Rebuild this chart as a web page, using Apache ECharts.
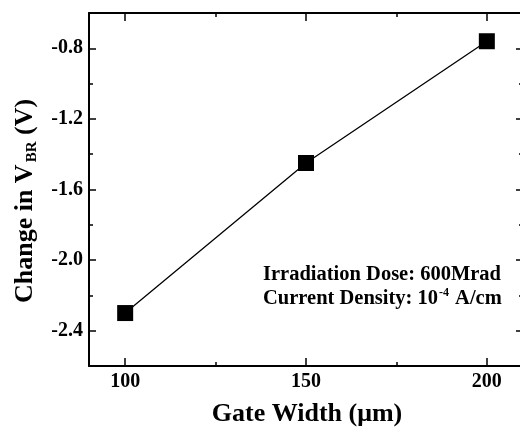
<!DOCTYPE html>
<html>
<head>
<meta charset="utf-8">
<script src="https://cdn.jsdelivr.net/npm/echarts@6/dist/echarts.min.js"></script>
<style>html,body{margin:0;padding:0;background:#fff}#c{width:520px;height:434px}</style>
</head>
<body>
<div id="c"></div>
<script>
const gateWidth = [100, 150, 200];
const deltaVbr = [-2.3, -1.45, -0.76];
const xMajorTicks = [100, 150, 200];
const xMinorTicks = [125, 175];
const yMajorTicks = [-2.4, -2.0, -1.6, -1.2, -0.8];
const yMinorTicks = [-2.6, -2.2, -1.8, -1.4, -1.0, -0.6];
const xRange = [90, 210];
const yRange = [-2.6, -0.6];

const FONT = '"Liberation Serif", "Times New Roman", serif';
const gridRect = { left: 89, top: 13, width: 434, height: 353, outerBoundsMode: 'none', containLabel: false };

function xAx(gridIndex, position, ticks, len, showLine, showLabel) {
  return {
    type: 'value', gridIndex, position, min: xRange[0], max: xRange[1],
    axisLine: { show: showLine, onZero: false, lineStyle: { color: '#000', width: 2 } },
    axisTick: { show: true, inside: true, length: len, customValues: ticks, lineStyle: { color: '#000', width: 1.5 } },
    axisLabel: { show: showLabel, customValues: ticks, margin: 6, color: '#000', fontFamily: FONT, fontWeight: 'bold', fontSize: 20 },
    splitLine: { show: false }
  };
}
function yAx(gridIndex, position, ticks, len, showLine, showLabel) {
  return {
    type: 'value', gridIndex, position, min: yRange[0], max: yRange[1],
    axisLine: { show: showLine, onZero: false, lineStyle: { color: '#000', width: 2 } },
    axisTick: { show: true, inside: true, length: len, customValues: ticks, lineStyle: { color: '#000', width: 1.5 } },
    axisLabel: { show: showLabel, customValues: ticks, margin: 6, color: '#000', fontFamily: FONT, fontWeight: 'bold', fontSize: 20,
      formatter: v => v.toFixed(1) },
    splitLine: { show: false }
  };
}

const chart = echarts.init(document.getElementById('c'), null, { renderer: 'canvas' });
chart.setOption({
  backgroundColor: '#fff',
  animation: false,
  grid: [Object.assign({}, gridRect), Object.assign({}, gridRect)],
  xAxis: [
    xAx(0, 'bottom', xMajorTicks, 8, true, true),
    xAx(0, 'top', xMajorTicks, 8, true, false),
    xAx(1, 'bottom', xMinorTicks, 4, false, false),
    xAx(1, 'top', xMinorTicks, 4, false, false)
  ],
  yAxis: [
    yAx(0, 'left', yMajorTicks, 7, true, true),
    yAx(0, 'right', yMajorTicks, 7, true, false),
    yAx(1, 'left', yMinorTicks, 4, false, false),
    yAx(1, 'right', yMinorTicks, 4, false, false)
  ],
  series: [{
    type: 'line', xAxisIndex: 0, yAxisIndex: 0,
    data: gateWidth.map((g, i) => [g, deltaVbr[i]]),
    symbol: 'rect', symbolSize: 16,
    lineStyle: { color: '#000', width: 1.3 },
    itemStyle: { color: '#000' }
  }],
  graphic: [
    {
      type: 'text', x: 307, y: 414,
      style: { text: 'Gate Width (μm)', fill: '#000', font: 'bold 26px ' + FONT, textAlign: 'center', textVerticalAlign: 'middle' }
    },
    {
      type: 'text', x: 25, y: 201, rotation: Math.PI / 2,
      style: {
        text: '{m|Change in V}{s|BR}{m| (V)}', fill: '#000', textAlign: 'center', textVerticalAlign: 'middle',
        rich: {
          m: { fontFamily: FONT, fontWeight: 'bold', fontSize: 26, fill: '#000' },
          s: { fontFamily: FONT, fontWeight: 'bold', fontSize: 15, fill: '#000', padding: [14, 0, 0, 2] }
        }
      }
    },
    {
      type: 'text', x: 263, y: 275,
      style: { text: 'Irradiation Dose: 600Mrad', fill: '#000', font: 'bold 20.5px ' + FONT, textAlign: 'left', textVerticalAlign: 'middle' }
    },
    {
      type: 'text', x: 263, y: 299,
      style: {
        text: '{m|Current Density: 10}{p|-4}{m| A/cm}', fill: '#000', textAlign: 'left', textVerticalAlign: 'middle',
        rich: {
          m: { fontFamily: FONT, fontWeight: 'bold', fontSize: 20.5, fill: '#000' },
          p: { fontFamily: FONT, fontWeight: 'bold', fontSize: 12, fill: '#000', padding: [0, 1, 12, 1] }
        }
      }
    }
  ]
});
</script>
</body>
</html>
